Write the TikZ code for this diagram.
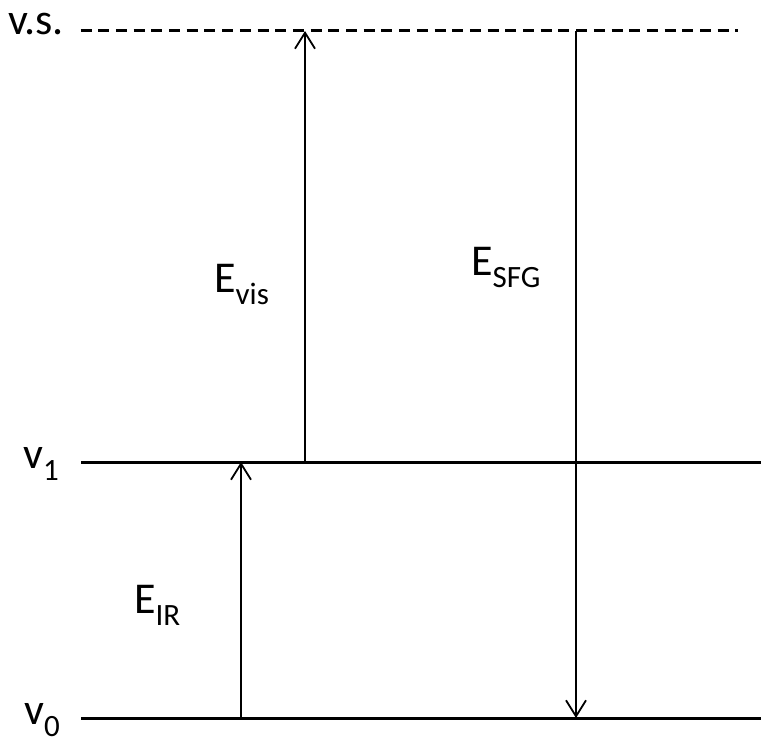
\documentclass[tikz,border=0pt]{standalone}
\usepackage{fontspec}
\setmainfont{Carlito}
\usetikzlibrary{arrows.meta}
\newcommand\lowsub[1]{\raisebox{-12pt}{\fontsize{31}{31}\selectfont #1}}
\begin{document}
\begin{tikzpicture}[x=1pt,y=-1pt,
  level/.style={line width=3pt},
  vslevel/.style={line width=3pt, dash pattern=on 11pt off 6.7pt},
  trans/.style={line width=2.2pt,-{Straight Barb[length=16pt,width=20pt,line width=1.8pt]}},
  lab/.style={anchor=base west, inner sep=0pt, font=\fontsize{44}{44}\selectfont}]
\useasboundingbox (0,0) rectangle (761,738);
% level end points
\coordinate (vsL) at (80.5,31);
\coordinate (vsR) at (738,31);
\coordinate (v1L) at (81,462);
\coordinate (v1R) at (761,462);
\coordinate (v0L) at (81,718);
\coordinate (v0R) at (761,718);
% transition end points
\coordinate (irB) at (241,718);
\coordinate (irT) at (241,462);
\coordinate (visB) at (305,462);
\coordinate (visT) at (305,31);
\coordinate (sfgT) at (576,31);
\coordinate (sfgB) at (576,718);
% levels
\draw[vslevel] (vsL) -- (vsR);
\draw[level] (v1L) -- (v1R);
\draw[level] (v0L) -- (v0R);
% transitions
\draw[trans] (irB) -- (irT);
\draw[trans] (visB) -- (visT);
\draw[trans] (sfgT) -- (sfgB);
% labels
\node[lab] (vs) at (8,35) {v.s.};
\node[lab] (v1) at (23,468) {v\lowsub{1}};
\node[lab] (v0) at (24,724) {v\lowsub{0}};
\node[lab] (Evis) at (214,293) {E\lowsub{vis}};
\node[lab] (Esfg) at (471,276) {E\lowsub{SFG}};
\node[lab] (Eir) at (134,613) {E\lowsub{IR}};
\end{tikzpicture}
\end{document}
